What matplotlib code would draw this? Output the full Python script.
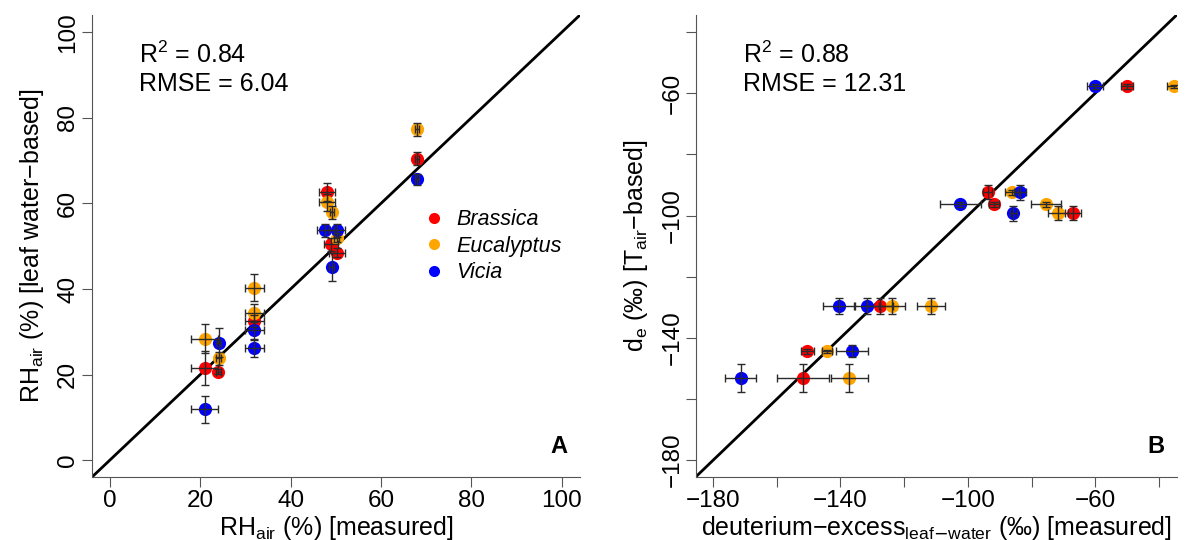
import matplotlib
matplotlib.use('Agg')
import matplotlib.pyplot as plt
from matplotlib.lines import Line2D

plt.rcParams['font.family'] = ['Liberation Sans', 'DejaVu Sans']
plt.rcParams['mathtext.default'] = 'regular'

species = ['Brassica', 'Eucalyptus', 'Vicia']
colors = ['#ff0000', '#ffa500', '#0000ff']

# panel A: RH_air measured vs leaf water-based
a_x = [
    [21.0, 24.0, 32.0, 48.0, 48.9, 50.2, 67.9],
    [21.0, 24.05, 32.0, 32.0, 48.0, 49.1, 50.2, 67.9],
    [21.0, 24.05, 32.0, 32.0, 47.7, 50.2, 49.05, 67.9],
]
a_y = [
    [21.6, 20.7, 32.5, 62.6, 50.4, 48.5, 70.4],
    [28.4, 23.8, 40.3, 34.4, 60.3, 57.9, 52.0, 77.3],
    [11.85, 27.4, 30.3, 26.1, 53.7, 53.7, 45.1, 65.6],
]
a_xerr = [
    [3.0, 0.6, 2.0, 1.8, 1.5, 1.8, 0.5],
    [3.0, 0.5, 2.0, 2.0, 1.8, 0.5, 0.5, 0.5],
    [3.0, 0.5, 2.0, 2.0, 1.8, 1.8, 0.5, 0.5],
]
a_yerr = [
    [4.0, 0.6, 1.5, 2.1, 1.5, 1.0, 1.5],
    [3.3, 1.5, 3.2, 2.0, 2.0, 1.5, 1.0, 1.5],
    [3.1, 3.4, 2.0, 2.0, 1.5, 1.5, 3.3, 1.2],
]

# panel B: deuterium excess measured vs T_air-based
b_x = [
    [-50.0, -93.8, -91.7, -67.0, -127.6, -150.4, -151.7],
    [-35.3, -86.2, -75.5, -71.7, -123.7, -111.6, -144.3, -137.2],
    [-60.0, -83.6, -102.4, -85.7, -140.5, -131.8, -136.5, -171.3],
]
b_y = [
    [-57.7, -92.4, -96.3, -99.3, -129.5, -144.4, -153.1],
    [-57.7, -92.4, -96.3, -99.3, -129.5, -129.5, -144.4, -153.1],
    [-57.7, -92.4, -96.3, -99.3, -129.5, -129.5, -144.4, -153.1],
]
b_xerr = [
    [2.0, 1.5, 1.5, 2.5, 4.0, 2.0, 8.1],
    [2.0, 2.0, 4.7, 3.1, 4.0, 4.5, 1.5, 5.9],
    [2.5, 2.0, 6.5, 1.0, 4.9, 4.0, 5.0, 4.9],
]
b_yerr = [
    [0.8, 2.3, 0.8, 2.3, 2.6, 0.8, 4.5],
    [0.5, 0.8, 0.8, 2.3, 2.6, 2.6, 0.5, 4.5],
    [0.8, 2.5, 0.8, 2.5, 2.6, 2.6, 2.0, 4.6],
]
b_ticks = list(range(-180, -39, 20))
b_labels = ['\u2212180', '', '\u2212140', '', '\u2212100', '', '\u221260', '']

fig = plt.figure(figsize=(12.02, 5.4), dpi=100)
axA = fig.add_axes([0.0763, 0.1161, 0.4062, 0.8561])
axB = fig.add_axes([0.5790, 0.1161, 0.4002, 0.8561])


def draw(ax, xs, ys, xes, yes):
    ax.axline((-100, -100), slope=1, color='black', lw=2, zorder=1)
    for x, y, c in zip(xs, ys, colors):
        ax.plot(x, y, 'o', color=c, ms=9.5, mec='none', zorder=2)
    for x, y, xe, ye in zip(xs, ys, xes, yes):
        ax.errorbar(x, y, xerr=xe, yerr=ye, fmt='none', ecolor='#2a2a2a',
                    elinewidth=1, capsize=3, capthick=1, zorder=3)
    for s in ['top', 'right']:
        ax.spines[s].set_visible(False)
    for s in ['left', 'bottom']:
        ax.spines[s].set_color('#555555')
    ax.tick_params(direction='out', length=7, color='#555555', labelsize=17.5, pad=2)


draw(axA, a_x, a_y, a_xerr, a_yerr)
axA.set_xlim(-4, 104)
axA.set_ylim(-4, 104)
axA.set_xticks(range(0, 101, 20))
axA.set_yticks(range(0, 101, 20))
axA.set_xlabel('RH$_{air}$ (%) [measured]', fontsize=18)
axA.set_ylabel('RH$_{air}$ (%) [leaf water\u2212based]', fontsize=18, labelpad=8)
axA.text(0.097, 0.915, 'R$^{2}$ = 0.84', transform=axA.transAxes, fontsize=18, va='center')
axA.text(0.097, 0.850, 'RMSE = 6.04', transform=axA.transAxes, fontsize=18, va='center')
axA.text(0.975, 0.066, 'A', transform=axA.transAxes, fontsize=17, fontweight='bold',
         ha='right', va='center')
handles = [Line2D([], [], marker='o', ls='none', color=c, ms=8, mec='none') for c in colors]
axA.legend(handles, species, loc='center left', bbox_to_anchor=(0.678, 0.50),
           frameon=False, borderpad=0, borderaxespad=0, handlelength=1,
           handletextpad=0.55, labelspacing=0.25,
           prop={'size': 15.5, 'style': 'italic'})

draw(axB, b_x, b_y, b_xerr, b_yerr)
axB.set_xlim(-185.4, -34.3)
axB.set_ylim(-185.6, -34.4)
axB.set_xticks(b_ticks)
axB.set_xticklabels(b_labels)
axB.set_yticks(b_ticks)
axB.set_yticklabels(b_labels)
axB.set_xlabel('deuterium\u2212excess$_{leaf\\text{\u2212}water}$ (\u2030) [measured]',
               fontsize=18)
axB.set_ylabel('d$_{e}$ (\u2030) [T$_{air}$\u2212based]', fontsize=18, labelpad=8)
axB.text(0.097, 0.915, 'R$^{2}$ = 0.88', transform=axB.transAxes, fontsize=18, va='center')
axB.text(0.097, 0.850, 'RMSE = 12.31', transform=axB.transAxes, fontsize=18, va='center')
axB.text(0.975, 0.066, 'B', transform=axB.transAxes, fontsize=17, fontweight='bold',
         ha='right', va='center')

for ax in (axA, axB):
    ax.xaxis.set_label_coords(0.5, -0.079)
    for lab in ax.get_yticklabels():
        lab.set_rotation(90)
        lab.set_va('center')

fig.savefig('out.png', dpi=100)
